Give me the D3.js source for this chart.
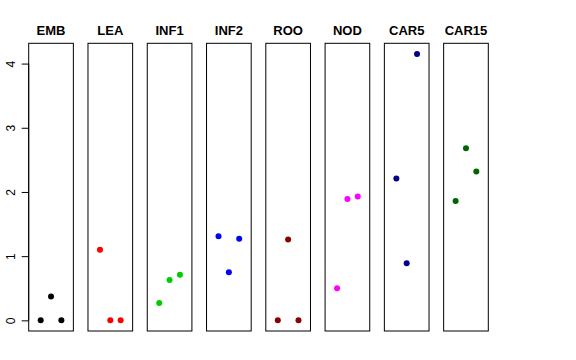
<!DOCTYPE html>
<html>
<head>
<meta charset="utf-8" />
<script src="https://d3js.org/d3.v7.min.js"></script>
<style>
  body { margin: 0; background-color: #ffffff; }
  svg { display: block; font-family: "Liberation Sans", Arial, sans-serif; }
</style>
</head>
<body>
<svg id="chart"></svg>
<script>
// one panel per tissue, three samples each
var tissues = ["EMB", "LEA", "INF1", "INF2", "ROO", "NOD", "CAR5", "CAR15"];
var values = [
  [0, 0.37, 0],
  [1.10, 0, 0],
  [0.27, 0.63, 0.71],
  [1.31, 0.75, 1.27],
  [0, 1.26, 0],
  [0.50, 1.89, 1.93],
  [2.21, 0.89, 4.15],
  [1.86, 2.68, 2.32]
];
var colors = ["#000000", "#FF0000", "#00CD00", "#0000FF", "#8B0000", "#FF00FF", "#00008B", "#006400"];
var yTicks = [0, 1, 2, 3, 4];

var width = 576, height = 360;
var plotTop = 43.3, plotBottom = 331;

var svg = d3.select("#chart")
  .attr("width", width)
  .attr("height", height);

var panel = d3.scaleBand()
  .domain(tissues)
  .range([28.7, 488.3])
  .paddingInner(0.2466)
  .paddingOuter(0);

var bw = panel.bandwidth();

// R style 4% padding on y
var yMax = d3.max(values, function(v) { return d3.max(v); });
var pad = yMax * 0.04;
var y = d3.scaleLinear()
  .domain([-pad, yMax + pad])
  .range([plotBottom, plotTop]);

// x positions 1..3 inside a 0..4 range, padded like y
var x = d3.scaleLinear()
  .domain([-0.16, 4.16])
  .range([0, bw]);

var panels = svg.selectAll(".panel")
  .data(tissues)
  .enter().append("g")
  .attr("class", "panel")
  .attr("transform", function(d) { return "translate(" + panel(d) + ",0)"; });

panels.append("rect")
  .attr("x", 0)
  .attr("y", plotTop)
  .attr("width", bw)
  .attr("height", plotBottom - plotTop)
  .attr("fill", "none")
  .attr("stroke", "#000")
  .attr("stroke-width", 1);

panels.append("text")
  .attr("x", bw / 2)
  .attr("y", 34.5)
  .attr("text-anchor", "middle")
  .attr("font-size", "13px")
  .attr("font-weight", "bold")
  .text(function(d) { return d; });

panels.selectAll("circle")
  .data(function(d, i) {
    return values[i].map(function(v, j) { return { v: v, j: j + 1, c: colors[i] }; });
  })
  .enter().append("circle")
  .attr("cx", function(d) { return x(d.j); })
  .attr("cy", function(d) { return y(d.v); })
  .attr("r", 3)
  .attr("fill", function(d) { return d.c; });

// y axis on the first panel only
var yAxis = d3.axisLeft(y)
  .tickValues(yTicks)
  .tickSize(7)
  .tickFormat(d3.format("d"));

var ax = svg.append("g")
  .attr("transform", "translate(" + panel(tissues[0]) + ",0)")
  .call(yAxis);

ax.select(".domain").remove();
ax.append("line")
  .attr("x1", 0).attr("x2", 0)
  .attr("y1", y(0)).attr("y2", y(4))
  .attr("stroke", "#000");

ax.selectAll(".tick text")
  .attr("x", null).attr("dy", null)
  .attr("transform", "translate(-14,0) rotate(-90)")
  .attr("text-anchor", "middle")
  .attr("font-size", "12px")
  .attr("font-family", "Liberation Sans, Arial, sans-serif")
  .attr("fill", "#000");
</script>
</body>
</html>
